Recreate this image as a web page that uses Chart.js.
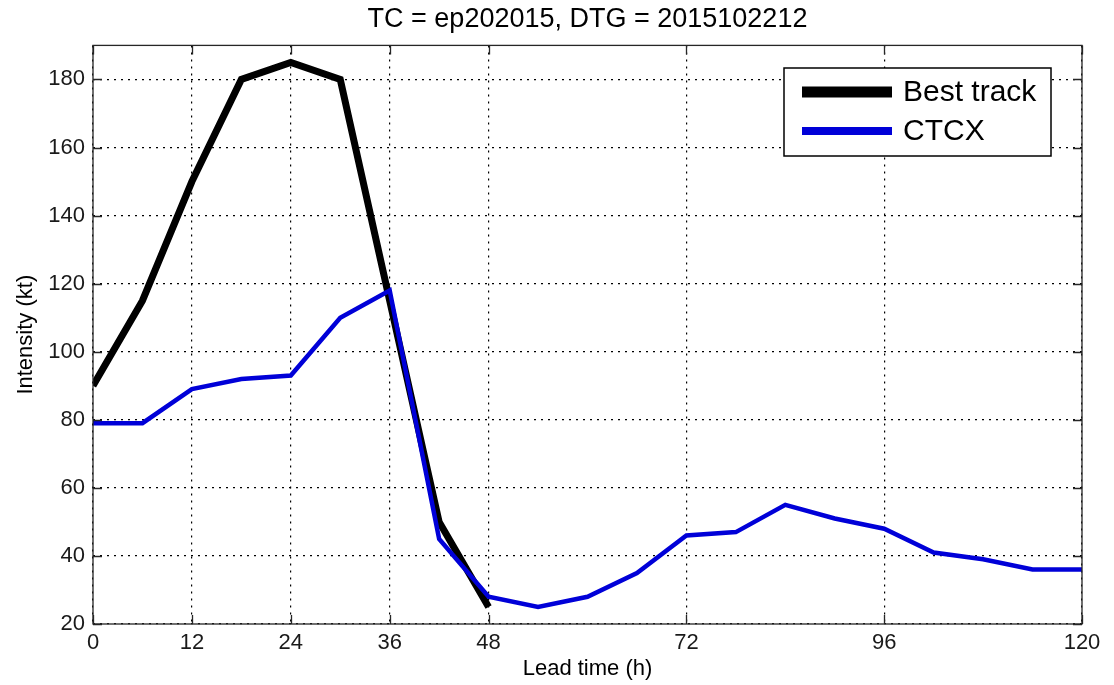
<!DOCTYPE html>
<html>
<head>
<meta charset="utf-8">
<script src="https://cdn.jsdelivr.net/npm/chart.js@4"></script>
<style>
  html, body { margin: 0; padding: 0; background: #fff; }
  #wrap { width: 1114px; height: 685px; }
</style>
</head>
<body>
<div id="wrap"><canvas id="intensity"></canvas></div>
<script>
const leadHours = [0, 6, 12, 18, 24, 30, 36, 42, 48, 54, 60, 66, 72, 78, 84, 90, 96, 102, 108, 114, 120]
const bestTrack = [90, 115, 150, 180, 185, 180, 115, 50, 25]
const ctcx = [79, 79, 89, 92, 93, 110, 118, 45, 28, 25, 28, 35, 46, 47, 55, 51, 48, 41, 39, 36, 36]
const xTicks = [0, 12, 24, 36, 48, 72, 96, 120]
const yTicks = [20, 40, 60, 80, 100, 120, 140, 160, 180]

const FONT = "'Liberation Sans', Arial, sans-serif"

function toPoints(vals) {
    return vals.map((v, i) => ({ x: leadHours[i], y: v }))
}

// box around the plot, inward ticks on every side, and the boxed legend
const matlabFrame = {
    id: "matlabFrame",
    afterDatasetsDraw(chart) {
        const { ctx, chartArea: a, scales } = chart
        ctx.save()
        ctx.strokeStyle = "#262626"
        ctx.lineWidth = 1.3
        const tl = 9
        ctx.beginPath()
        xTicks.forEach(t => {
            const px = Math.round(scales.x.getPixelForValue(t)) + 0.5
            ctx.moveTo(px, a.bottom); ctx.lineTo(px, a.bottom - tl)
            ctx.moveTo(px, a.top); ctx.lineTo(px, a.top + tl)
        })
        yTicks.forEach(t => {
            const py = Math.round(scales.y.getPixelForValue(t)) + 0.5
            ctx.moveTo(a.left, py); ctx.lineTo(a.left + tl, py)
            ctx.moveTo(a.right, py); ctx.lineTo(a.right - tl, py)
        })
        ctx.stroke()
        ctx.strokeRect(a.left, a.top, a.right - a.left, a.bottom - a.top)

        // legend
        const lx = 784, ly = 68, lw = 267, lh = 88
        ctx.fillStyle = "#fff"
        ctx.fillRect(lx, ly, lw, lh)
        ctx.strokeStyle = "#000"
        ctx.lineWidth = 1.5
        ctx.strokeRect(lx, ly, lw, lh)
        const rows = [ly + 24, ly + 63]
        chart.data.datasets.forEach((ds, r) => {
            ctx.strokeStyle = ds.borderColor
            ctx.lineWidth = r === 0 ? 11 : 8
            ctx.lineCap = "butt"
            ctx.beginPath()
            ctx.moveTo(lx + 18, rows[r]); ctx.lineTo(lx + 108, rows[r])
            ctx.stroke()
            ctx.fillStyle = "#000"
            ctx.font = "30px " + FONT
            ctx.textBaseline = "middle"
            ctx.fillText(ds.label, lx + 119, rows[r] + 1)
        })
        ctx.restore()
    }
}

new Chart(document.getElementById("intensity"), {
    type: "line",
    data: {
        datasets: [
            {
                label: "Best track",
                data: toPoints(bestTrack),
                borderColor: "#000000",
                borderWidth: 7,
                pointRadius: 0,
                order: 2
            },
            {
                label: "CTCX",
                data: toPoints(ctcx),
                borderColor: "#0000d8",
                borderWidth: 4.5,
                pointRadius: 0,
                order: 1
            }
        ]
    },
    options: {
        responsive: true,
        maintainAspectRatio: false,
        animation: false,
        layout: { padding: { top: 0, right: 32, bottom: 0, left: 0 } },
        plugins: {
            legend: { display: false },
            tooltip: { enabled: false },
            title: {
                display: true,
                fullSize: false,
                text: "TC = ep202015, DTG = 2015102212",
                color: "#000",
                font: { family: FONT, size: 27, weight: "normal" },
                padding: { top: 3, bottom: 10 }
            }
        },
        scales: {
            x: {
                type: "linear",
                min: 0,
                max: 120,
                afterBuildTicks: s => { s.ticks = xTicks.map(v => ({ value: v })) },
                afterFit: s => { s.height = 61 },
                ticks: {
                    color: "#1a1a1a",
                    font: { family: FONT, size: 22 },
                    padding: 6,
                    maxRotation: 0,
                    autoSkip: false
                },
                grid: { color: "#000", lineWidth: 1.2, drawTicks: false },
                border: { display: false, dash: [2, 5] },
                title: {
                    display: true,
                    text: "Lead time (h)",
                    color: "#000",
                    font: { family: FONT, size: 22 },
                    padding: { top: 0, bottom: 3 }
                }
            },
            y: {
                type: "linear",
                min: 20,
                max: 190,
                afterBuildTicks: s => { s.ticks = yTicks.map(v => ({ value: v })) },
                afterFit: s => { s.width = 93 },
                ticks: {
                    color: "#1a1a1a",
                    font: { family: FONT, size: 22 },
                    padding: 8,
                    autoSkip: false
                },
                grid: { color: "#000", lineWidth: 1.2, drawTicks: false },
                border: { display: false, dash: [2, 5] },
                title: {
                    display: true,
                    text: "Intensity (kt)",
                    color: "#000",
                    font: { family: FONT, size: 22 },
                    padding: { top: 13, bottom: 0 }
                }
            }
        }
    },
    plugins: [matlabFrame]
})
</script>
</body>
</html>
